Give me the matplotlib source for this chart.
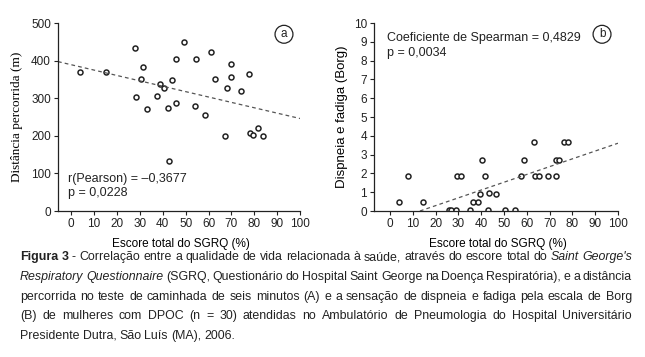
import matplotlib
matplotlib.use("Agg")
import matplotlib.pyplot as plt
from matplotlib import font_manager

# ---- data ----
sgrq_a = [3.9, 15.1, 27.7, 31.3, 30.7, 28.2, 33.0, 37.3, 39.0, 40.6, 44.1, 42.2,
          45.7, 46.0, 49.5, 42.9, 53.9, 54.7, 58.4, 61.3, 62.7, 68.0, 67.4, 70.0,
          69.9, 74.0, 77.9, 78.0, 79.3, 81.8, 83.8]
dist_a = [371, 369, 433, 384, 352, 302, 271, 307, 338, 327, 349, 273,
          286, 404, 449, 134, 278, 404, 256, 423, 351, 327, 200, 390,
          356, 320, 365, 208, 201, 220, 200]
trend_a = (389.0, -1.43)   # intercept, slope

sgrq_b = [4.1, 8.0, 14.5, 25.7, 26.7, 29.1, 29.6, 31.2, 35.0, 36.4, 38.4, 39.6,
          40.4, 41.5, 42.8, 43.4, 46.6, 50.5, 54.7, 57.4, 58.8, 63.2, 63.5, 65.3,
          69.3, 72.7, 74.0, 73.0, 76.4, 78.2]
borg_b = [0.48, 1.88, 0.48, 0.04, 0.04, 0.04, 1.85, 1.85, 0.04, 0.48, 0.48, 0.92,
          2.73, 1.84, 0.04, 0.94, 0.92, 0.04, 0.04, 1.84, 2.73, 3.65, 1.84, 1.84,
          1.84, 2.73, 2.71, 1.84, 3.65, 3.65]
trend_b = (-0.545, 0.0415)

x_ticks = list(range(0, 101, 10))
y_ticks_a = list(range(0, 501, 100))
y_ticks_b = list(range(0, 11))

SANS = ["Liberation Sans", "DejaVu Sans"]
INK = "#222222"

plt.rcParams["font.family"] = SANS
plt.rcParams["text.color"] = INK

fig = plt.figure(figsize=(6.45, 3.57), dpi=100)
W, H = 645, 357


def px_axes(x0, y0, x1, y1):
    return fig.add_axes([x0 / W, 1 - y1 / H, (x1 - x0) / W, (y1 - y0) / H])


def style(ax, xlo, ylim, yticks):
    ax.set_xlim(xlo, 100)
    ax.set_ylim(*ylim)
    ax.set_xticks(x_ticks)
    ax.set_yticks(yticks)
    for s in ("top", "right"):
        ax.spines[s].set_visible(False)
    for s in ("left", "bottom"):
        ax.spines[s].set_linewidth(0.9)
        ax.spines[s].set_color(INK)
    ax.tick_params(direction="out", length=3, width=0.8, labelsize=8.5,
                   colors=INK, pad=2)
    ax.set_xlabel("Escore total do SGRQ (%)", fontsize=8.5)
    ax.xaxis.set_label_coords(0.5 + (-xlo) * 0 / 100, -0.144)


ax_a = px_axes(58, 23, 300, 211)
ax_b = px_axes(374, 23, 618, 211)

# panel a
style(ax_a, -5.8, (0, 500), y_ticks_a)
ax_a.xaxis.set_label_coords((181 - 58) / 242, -0.144)
ax_a.plot(sgrq_a, dist_a, "o", mfc="white", mec=INK, mew=1.1, ms=3.6, ls="none")
xs = [-5.8, 100]
ax_a.plot(xs, [trend_a[0] + trend_a[1] * x for x in xs], ls=(0, (3, 2.5)),
          color="#555555", lw=0.9)
ax_a.set_ylabel("Distância percorrida (m)", fontsize=9.5,
                family=["Liberation Serif", "DejaVu Serif"])
ax_a.yaxis.set_label_coords(-0.145, 0.5)
ax_a.text(0.04, 0.17, "r(Pearson) = \u20130,3677", transform=ax_a.transAxes,
          fontsize=9, va="center")
ax_a.text(0.04, 0.096, "p = 0,0228", transform=ax_a.transAxes,
          fontsize=9, va="center")
ax_a.text(93, 470, "a", ha="center", va="center", fontsize=8.5,
          bbox=dict(boxstyle="circle,pad=0.25", fc="white", ec=INK, lw=0.9))

# panel b
style(ax_b, -7, (0, 10), y_ticks_b)
ax_b.xaxis.set_label_coords((498 - 374) / 244, -0.144)
ax_b.plot(sgrq_b, borg_b, "o", mfc="white", mec=INK, mew=1.1, ms=3.6, ls="none")
x0b = -trend_b[0] / trend_b[1]
xs = [x0b, 100]
ax_b.plot(xs, [trend_b[0] + trend_b[1] * x for x in xs], ls=(0, (3, 2.5)),
          color="#555555", lw=0.9)
ax_b.set_ylabel("Dispneia e fadiga (Borg)", fontsize=9.5)
ax_b.yaxis.set_label_coords(-0.107, 0.5)
ax_b.text(0.055, 0.92, "Coeficiente de Spearman = 0,4829",
          transform=ax_b.transAxes, fontsize=9, va="center")
ax_b.text(0.055, 0.84, "p = 0,0034", transform=ax_b.transAxes,
          fontsize=9, va="center")
ax_b.text(93, 9.4, "b", ha="center", va="center", fontsize=8.5,
          bbox=dict(boxstyle="circle,pad=0.25", fc="white", ec=INK, lw=0.9))

# ---- caption, justified by hand ----
caption = [
    [("Figura 3", "bold"), ("- Correlação entre a qualidade de vida relacionada à saúde, "
                            "através do escore total do", "normal"),
     ("Saint George's", "italic")],
    [("Respiratory Questionnaire", "italic"),
     ("(SGRQ, Questionário do Hospital Saint George na Doença Respiratória), e a distância",
      "normal")],
    [("percorrida no teste de caminhada de seis minutos (A) e a sensação de dispneia "
      "e fadiga pela escala de Borg", "normal")],
    [("(B) de mulheres com DPOC (n = 30) atendidas no Ambulatório de Pneumologia do "
      "Hospital Universitário", "normal")],
    [("Presidente Dutra, São Luís (MA), 2006.", "normal")],
]
line_y = [257, 277, 297, 316, 336]
cap_x0, cap_x1 = 20, 632

renderer = fig.canvas.get_renderer()
lines = []
for segs in caption:
    items = []
    for txt, st in segs:
        for w in txt.split():
            kw = dict(va="center", ha="left", fontsize=9.5)
            if st == "bold":
                kw["fontweight"] = "bold"
            elif st == "italic":
                kw["fontstyle"] = "italic"
            items.append(fig.text(0, 0, w, **kw))
    lines.append(items)

# shrink the caption until every line fits with a small minimum gap
size = 9.5
while True:
    for items in lines:
        for t in items:
            t.set_fontsize(size)
    worst = max(sum(t.get_window_extent(renderer).width for t in items)
                + 2.6 * (len(items) - 1) for items in lines)
    if worst <= cap_x1 - cap_x0 or size < 6:
        break
    size -= 0.1

for i, (items, y) in enumerate(zip(lines, line_y)):
    widths = [t.get_window_extent(renderer).width for t in items]
    if i < len(lines) - 1:
        gap = (cap_x1 - cap_x0 - sum(widths)) / (len(items) - 1)
    else:
        gap = 3.0
    x = cap_x0
    for t, w in zip(items, widths):
        t.set_position((x / W, 1 - y / H))
        x += w + gap

fig.savefig("out.png", dpi=100)
